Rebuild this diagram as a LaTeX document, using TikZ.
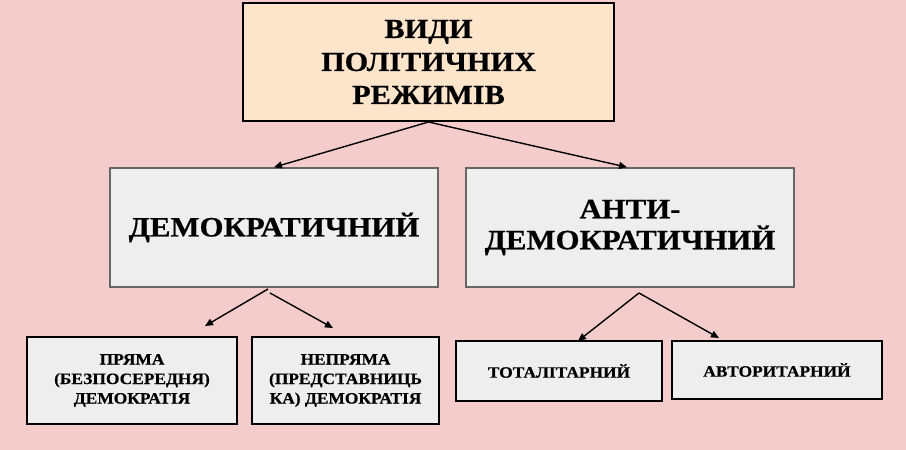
\documentclass[tikz,border=0pt]{standalone}
\usepackage{fontspec}
\setmainfont{Liberation Serif}[FakeStretch=1.1, BoldFeatures={FakeBold=0.6}]
\usetikzlibrary{arrows.meta}
\definecolor{bgpink}{HTML}{F4CCCC}
\definecolor{peach}{HTML}{FDE5CB}
\definecolor{lgray}{HTML}{EEEEEE}
\definecolor{dgray}{HTML}{666666}
\tikzset{
  topbox/.style={draw=black, line width=2pt, fill=peach, inner sep=0pt, align=center, font=\bfseries\fontsize{27.5}{33}\selectfont},
  midbox/.style={draw=dgray, line width=1.6pt, fill=lgray, inner sep=0pt, align=center, font=\bfseries\fontsize{28}{31}\selectfont},
  smallbox/.style={draw=black, line width=1.8pt, fill=lgray, inner sep=0pt, align=center, font=\bfseries\fontsize{15.8}{19.5}\selectfont},
  arr/.style={line width=1.4pt, -{Triangle[length=8pt,width=7pt]}}
}
\begin{document}
\begin{tikzpicture}[x=1pt,y=-1pt]
\fill[bgpink] (0,0) rectangle (906,450);
\useasboundingbox (0,0) rectangle (906,450);
\node[topbox, minimum width=371pt, minimum height=118pt] (top) at (428.5,62) {ВИДИ\\ПОЛІТИЧНИХ\\РЕЖИМІВ};
\node[midbox, minimum width=328pt, minimum height=119pt] (demo) at (274,227.5) {ДЕМОКРАТИЧНИЙ};
\node[midbox, minimum width=328pt, minimum height=119pt] (anti) at (630,227.5) {АНТИ-\\ДЕМОКРАТИЧНИЙ};
\node[smallbox, minimum width=210pt, minimum height=87pt] (pryama) at (132,380.5) {ПРЯМА\\(БЕЗПОСЕРЕДНЯ)\\ДЕМОКРАТІЯ};
\node[smallbox, minimum width=187pt, minimum height=87pt] (nepryama) at (345.5,380.5) {НЕПРЯМА\\(ПРЕДСТАВНИЦЬ\\КА) ДЕМОКРАТІЯ};
\node[smallbox, minimum width=206pt, minimum height=60pt] (total) at (559,371) {ТОТАЛІТАРНИЙ};
\node[smallbox, minimum width=210pt, minimum height=58pt] (avtor) at (777,370) {АВТОРИТАРНИЙ};
\coordinate (d1) at (268,289);
\coordinate (d2) at (270,293);
\coordinate (p1) at (205,326);
\coordinate (n1) at (333,328);
\coordinate (a1) at (639,293);
\coordinate (t1) at (578,341);
\coordinate (v1) at (719,338);
\draw[arr] (top.south) -- (demo.north);
\draw[arr] (top.south) -- ([xshift=-3pt]anti.north);
\draw[arr] (d1) -- (p1);
\draw[arr] (d2) -- (n1);
\draw[arr] (a1) -- (t1);
\draw[arr] (a1) -- (v1);
\end{tikzpicture}
\end{document}
